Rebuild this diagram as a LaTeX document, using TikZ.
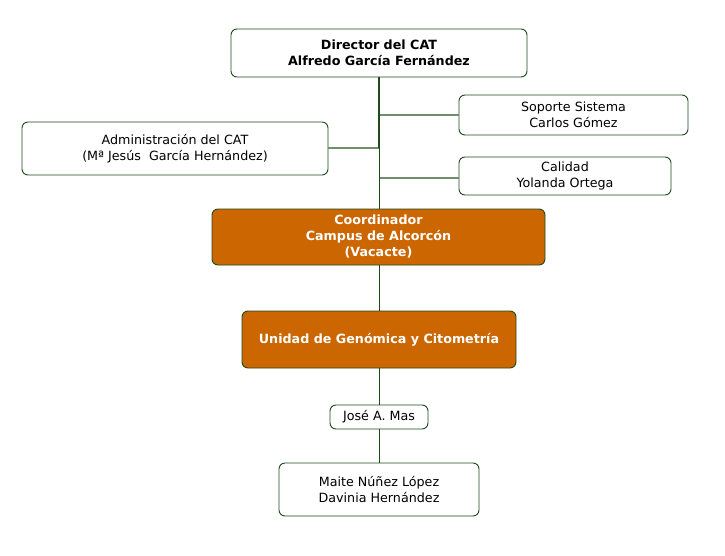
\documentclass[tikz,border=0pt]{standalone}
\usepackage{fontspec}
\setmainfont{DejaVu Sans}
\definecolor{bordergreen}{HTML}{1E4A1E}
\definecolor{branchgreen}{HTML}{6E8E6E}
\definecolor{orangefill}{HTML}{CC6600}
\tikzset{
  box/.style={draw=bordergreen, line width=0.9pt, rounded corners=6pt, fill=white, align=center, inner sep=0pt,
    font=\fontsize{12.7}{16}\selectfont},
  obox/.style={box, fill=orangefill, text=white, font=\fontsize{12.7}{16}\selectfont\bfseries},
  trunk/.style={draw=bordergreen, line width=0.9pt},
  branch/.style={draw=branchgreen, line width=1.1pt}
}
\begin{document}
\begin{tikzpicture}[x=1pt,y=-1pt]
\useasboundingbox (0,0) rectangle (725,556);
\node[box, minimum width=296pt, minimum height=48pt, font=\fontsize{12.7}{16}\selectfont\bfseries] (dir) at (379,53) {Director del CAT\\Alfredo García Fernández};
\node[box, minimum width=229pt, minimum height=40pt] (sop) at (573.5,115) {Soporte Sistema\\Carlos Gómez};
\node[box, minimum width=306pt, minimum height=53pt] (adm) at (175,148.5) {Administración del CAT\\(Mª Jesús\ \ García Hernández)};
\node[box, minimum width=212pt, minimum height=38pt] (cal) at (565,176) {Calidad\\Yolanda Ortega};
\node[obox, minimum width=333pt, minimum height=56pt] (coo) at (378.5,237) {Coordinador\\Campus de Alcorcón\\(Vacacte)};
\node[obox, minimum width=274pt, minimum height=57pt] (uni) at (379,339.5) {Unidad de Genómica y Citometría};
\node[box, minimum width=98pt, minimum height=24pt] (jose) at (379,417) {José A. Mas};
\node[box, minimum width=200pt, minimum height=53pt] (mai) at (379,489.5) {Maite Núñez López\\Davinia Hernández};
\coordinate (j1) at (379,115);
\coordinate (j2) at (379,148);
\coordinate (j3) at (379,178);
\draw[branch] (j1) -- (sop.west |- j1);
\draw[branch] (adm.east |- j2) -- (j2);
\draw[branch] (j3) -- (cal.west |- j3);
\draw[trunk, line width=2pt] (dir.south -| j2) -- (j2);
\draw[trunk] (j2) -- (coo.north -| j2);
\draw[trunk] (coo.south -| j2) -- (uni.north -| j2);
\draw[trunk] (uni.south -| j2) -- (jose.north -| j2);
\draw[trunk] (jose.south -| j2) -- (mai.north -| j2);
\end{tikzpicture}
\end{document}
